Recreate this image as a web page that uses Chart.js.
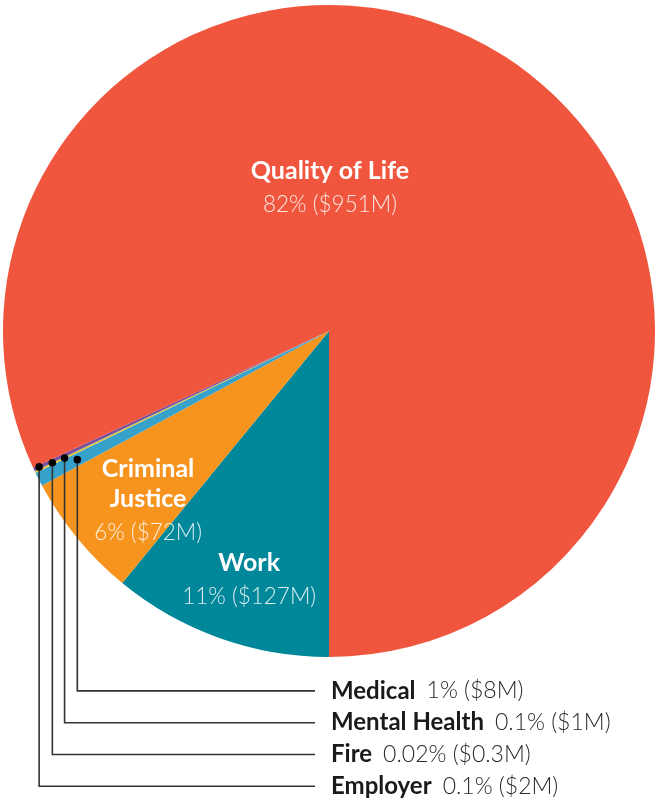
<!DOCTYPE html>
<html>
<head>
<meta charset="utf-8">
<script src="https://cdn.jsdelivr.net/npm/chart.js@4"></script>
<style>
  html, body { margin: 0; padding: 0; background: #fff; }
  #wrap { width: 655px; height: 803px; position: relative; }
</style>
</head>
<body>
<div id="wrap"><canvas id="costPie"></canvas></div>
<script>
// 비용 구성 (단위: 백만 달러), 6시 방향부터 시계방향 순서
const categories = ['Work', 'Criminal Justice', 'Medical', 'Mental Health', 'Fire', 'Employer', 'Quality of Life'];
const costs = [127, 72, 8, 1, 0.3, 2, 951];
const shares = ['11%', '6%', '1%', '0.1%', '0.02%', '0.1%', '82%'];
const dollars = ['$127M', '$72M', '$8M', '$1M', '$0.3M', '$2M', '$951M'];
const sliceColors = ['#008799', '#f7941e', '#36a2cc', '#fec526', '#16a08a', '#7d4e9c', '#f0563e'];

const FONT = 'Lato, "Noto Sans", sans-serif';

// 파이 안에 쓰는 라벨 (반지름 대비 위치)
const insideLabels = [
  { i: 6, lines: ['Quality of Life'], dx: 0.003, dy: -0.466 },
  { i: 1, lines: ['Criminal', 'Justice'], dx: -0.555, dy: 0.448 },
  { i: 0, lines: ['Work'], dx: -0.245, dy: 0.736 }
];

// 작은 조각들은 아래쪽 범례로 선을 뽑는다
const callouts = [
  { i: 2, frac: 0.867 },
  { i: 3, frac: 0.90 },
  { i: 4, frac: 0.94 },
  { i: 5, frac: 0.982 }
];

const labelPlugin = {
  id: 'sliceLabels',
  afterDraw(chart) {
    const { ctx } = chart;
    const arcs = chart.getDatasetMeta(0).data;
    const { x: cx, y: cy, outerRadius: R } = arcs[0].getProps(['x', 'y', 'outerRadius'], true);
    ctx.save();
    ctx.textAlign = 'center';
    ctx.textBaseline = 'alphabetic';

    insideLabels.forEach(l => {
      const x = cx + l.dx * R;
      let y = cy + l.dy * R;
      ctx.fillStyle = '#ffffff';
      ctx.font = `bold 25px ${FONT}`;
      l.lines.forEach((t, k) => {
        ctx.fillText(t, x, y + k * 30);
      });
      y += (l.lines.length - 1) * 30 + 33;
      ctx.fillStyle = 'rgba(255,255,255,0.85)';
      ctx.font = `300 22.5px ${FONT}`;
      ctx.fillText(`${shares[l.i]} (${dollars[l.i]})`, x, y);
    });

    // 리더선 + 범례
    const rowY0 = cy + 1.104 * R;
    const lineEnd = cx - 14;
    callouts.forEach((c, k) => {
      const a = arcs[c.i];
      const { startAngle, endAngle } = a.getProps(['startAngle', 'endAngle'], true);
      const mid = (startAngle + endAngle) / 2;
      const dx = cx + Math.cos(mid) * R * c.frac;
      const dy = cy + Math.sin(mid) * R * c.frac;
      const rowY = rowY0 + k * 31.8;

      ctx.strokeStyle = '#333';
      ctx.lineWidth = 1.6;
      ctx.beginPath();
      ctx.moveTo(dx, dy);
      ctx.lineTo(dx, rowY);
      ctx.lineTo(lineEnd, rowY);
      ctx.stroke();

      ctx.fillStyle = '#000';
      ctx.beginPath();
      ctx.arc(dx, dy, 3.8, 0, Math.PI * 2);
      ctx.fill();

      ctx.textAlign = 'left';
      ctx.textBaseline = 'middle';
      ctx.font = `bold 24px ${FONT}`;
      ctx.fillStyle = '#1a1a1a';
      const name = categories[c.i];
      ctx.fillText(name, cx + 2, rowY);
      const w = ctx.measureText(name).width;
      ctx.font = `300 23px ${FONT}`;
      ctx.fillStyle = '#2a2a2a';
      ctx.fillText(`${shares[c.i]} (${dollars[c.i]})`, cx + 2 + w + 11, rowY);
    });
    ctx.restore();
  }
};

new Chart(document.getElementById('costPie'), {
  type: 'pie',
  data: {
    labels: categories,
    datasets: [{
      data: costs,
      backgroundColor: sliceColors,
      borderWidth: 0
    }]
  },
  options: {
    responsive: true,
    maintainAspectRatio: false,
    animation: false,
    rotation: 180,
    layout: { padding: { top: 5, bottom: 146, left: 3, right: 0 } },
    plugins: {
      legend: { display: false },
      tooltip: { enabled: false }
    }
  },
  plugins: [labelPlugin]
});
</script>
</body>
</html>
